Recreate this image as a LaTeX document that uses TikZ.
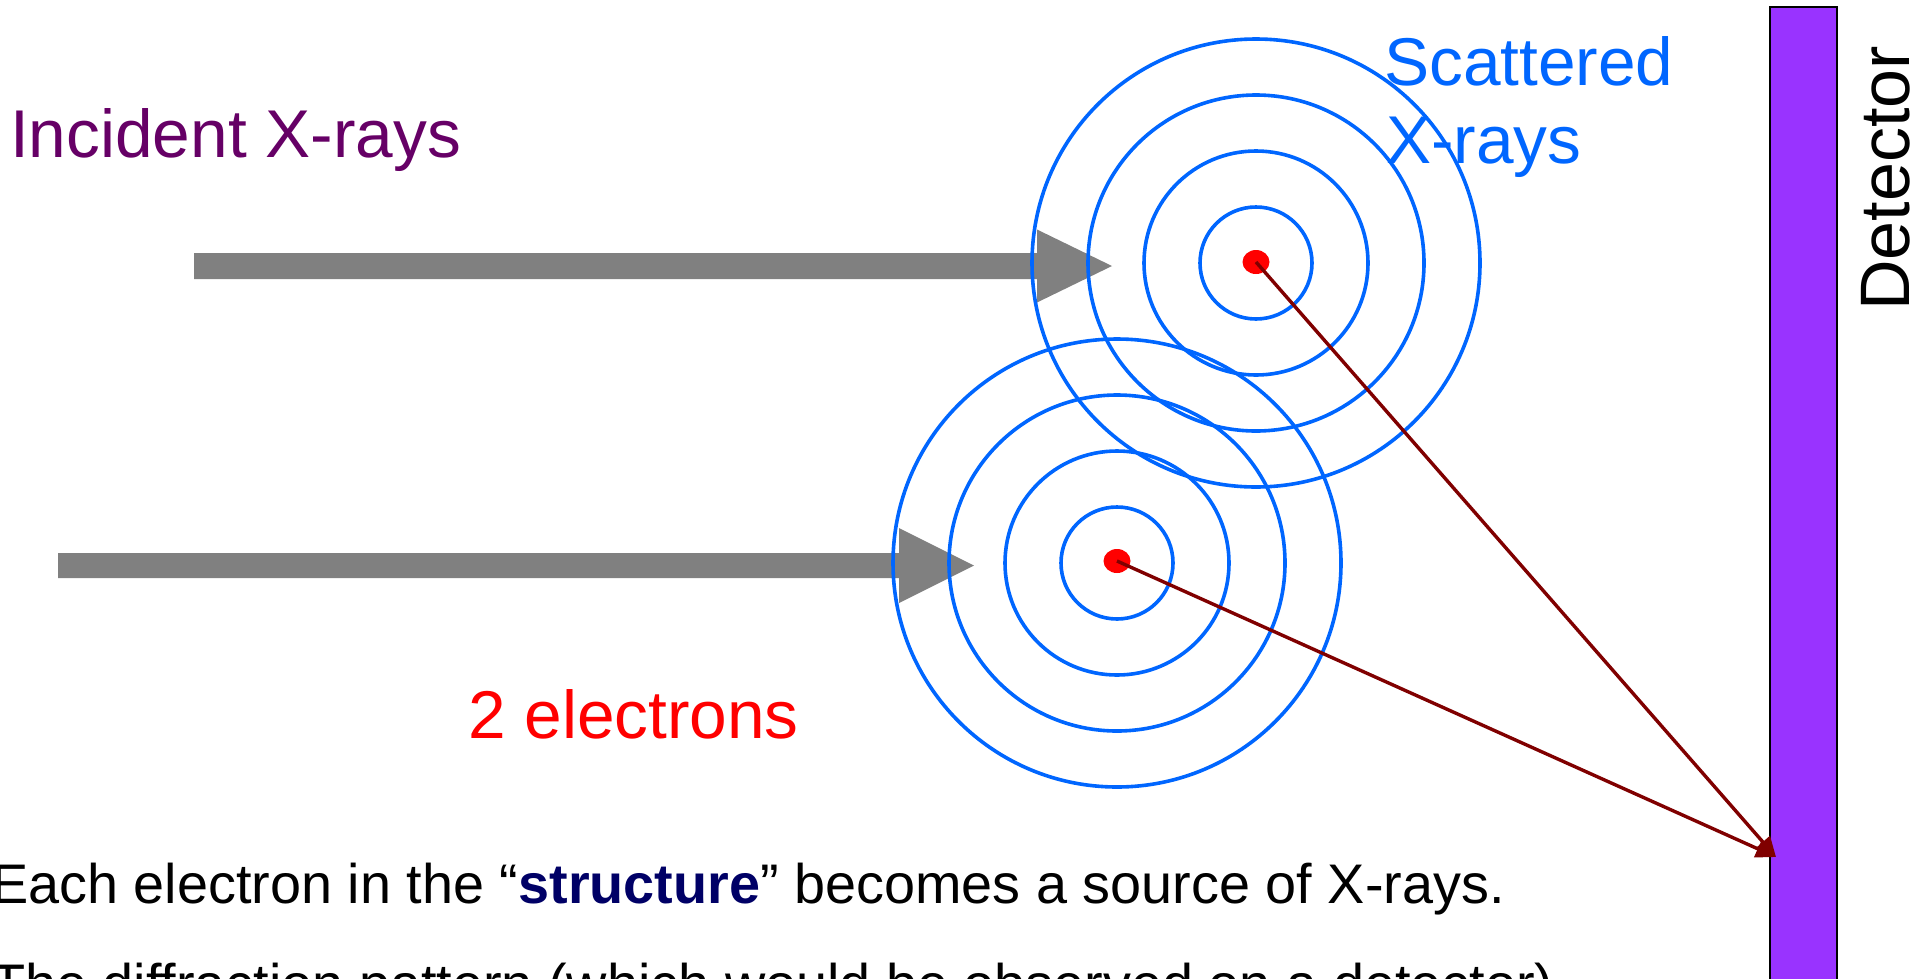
\documentclass[tikz,border=0pt]{standalone}
\usepackage{fontspec}
\setmainfont{Liberation Sans}
\usetikzlibrary{arrows.meta,shapes.geometric}
\definecolor{incid}{HTML}{660066}
\definecolor{scat}{HTML}{0066FF}
\definecolor{beam}{HTML}{808080}
\definecolor{detfill}{HTML}{9933FF}
\definecolor{raycol}{HTML}{800000}
\definecolor{navy}{HTML}{000066}
\tikzset{
  wave/.style={draw=scat, line width=3.6pt},
  beamarrow/.style={fill=beam, draw=none},
  electron/.style={ellipse, fill=red, draw=none, inner sep=0pt, minimum width=27pt, minimum height=24pt},
  ray/.style={draw=raycol, line width=3.4pt, -{Triangle[length=20pt,width=18pt]}},
  bigtext/.style={inner sep=0pt, anchor=base west, font=\fontsize{67.6}{79}\selectfont},
  bodytext/.style={inner sep=0pt, anchor=base west, font=\fontsize{55.8}{66}\selectfont},
  detbox/.style={fill=detfill, draw=black, line width=2pt}
}
\begin{document}
\begin{tikzpicture}[x=1pt,y=-1pt]
\useasboundingbox (0,0) rectangle (1923,978);
\clip (0,0) rectangle (1923,978);
% incident beams
\draw[beamarrow] (194,253) -- (1037,253) -- (1037,229.5) -- (1112,266) -- (1037,302.5) -- (1037,279) -- (194,279) -- cycle;
\draw[beamarrow] (58,553) -- (899,553) -- (899,528) -- (974,565.5) -- (899,603) -- (899,578) -- (58,578) -- cycle;
% scattered wavefronts
\coordinate (cA) at (1256,263);
\coordinate (cB) at (1117,563);
\foreach \r in {56,112,168,224} {
  \draw[wave] (cA) circle[radius=\r];
  \draw[wave] (cB) circle[radius=\r];
}
% electrons
\node[electron] (eA) at (1256,262) {};
\node[electron] (eB) at (1117,561) {};
% detector
\draw[detbox] (1770,7) rectangle (1837,990);
\node[inner sep=0pt, anchor=base west, rotate=90, font=\fontsize{70}{82}\selectfont] (det) at (1909,311) {Detector};
% rays to detector
\coordinate (hit) at (1776,857);
\draw[ray] (eA.center) -- (hit);
\draw[ray] (eB.center) -- (hit);
% labels
\node[bigtext, text=incid] (inc) at (10,157) {Incident X-rays};
\node[bigtext, text=scat] (sc1) at (1384,85) {Scattered};
\node[bigtext, text=scat] (sc2) at (1386,163) {X-rays};
\node[bigtext, text=red] (two) at (468,738) {2 electrons};
\node[bodytext] (l1) at (-9,903) {Each electron in the “\textcolor{navy}{\textbf{structure}}” becomes a source of X-rays.};
\node[bodytext] (l2) at (-9,1003) {The diffraction pattern (which would be observed on a detector)};
\end{tikzpicture}
\end{document}
